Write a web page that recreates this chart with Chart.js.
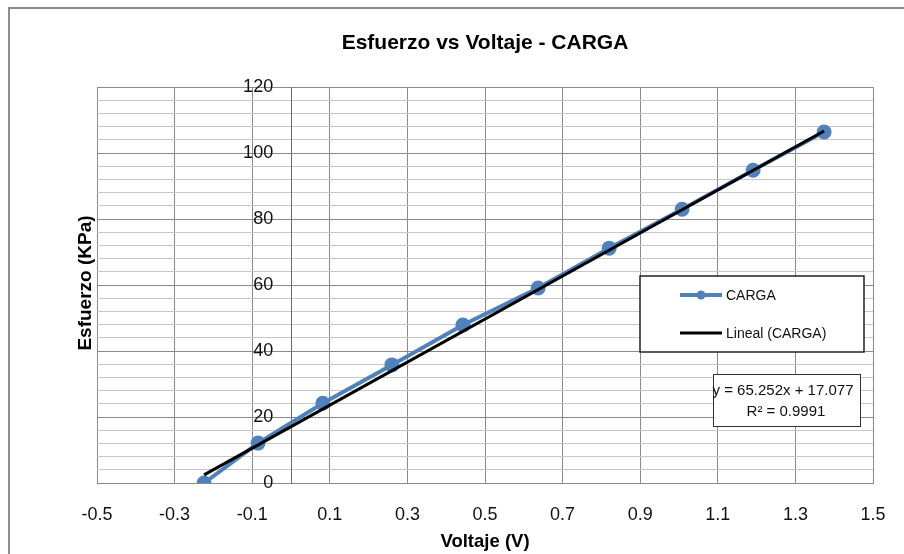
<!DOCTYPE html>
<html>
<head>
<meta charset="utf-8">
<script src="https://cdn.jsdelivr.net/npm/chart.js@4.4.0/dist/chart.umd.min.js"></script>
<style>
  html, body { margin: 0; padding: 0; background: #fff; }
  #chartBox { position: relative; width: 904px; height: 554px; }
</style>
</head>
<body>
<div id="chartBox"><canvas id="canvasChart"></canvas></div>
<script>
// values
const voltaje = [-0.224, -0.085, 0.082, 0.260, 0.443, 0.637, 0.820, 1.008, 1.191, 1.374];
const esfuerzo = [0, 12.1, 24.2, 35.8, 47.9, 59.1, 71.2, 83.0, 94.8, 106.4];
const trendX = [-0.224, 1.374];
const trendY = [2.46, 106.73];
const xTickLabels = ['-0.5', '-0.3', '-0.1', '0.1', '0.3', '0.5', '0.7', '0.9', '1.1', '1.3', '1.5'];
const yTickLabels = ['0', '20', '40', '60', '80', '100', '120'];
const equationLines = ['y = 65.252x + 17.077', 'R\u00B2 = 0.9991'];
const titleText = 'Esfuerzo vs Voltaje - CARGA';
const xTitle = 'Voltaje (V)';
const yTitle = 'Esfuerzo (KPa)';

const fontFamily = '"Liberation Sans", Arial, sans-serif';
const blue = '#4F81BD';

const points = voltaje.map((v, i) => ({x: v, y: esfuerzo[i]}));
const trendPoints = trendX.map((v, i) => ({x: v, y: trendY[i]}));

// frame, y title, legend and equation box
const extras = {
  id: 'extras',
  beforeDraw(chart) {
    const c = chart.ctx;
    c.save();
    c.fillStyle = '#fff';
    c.fillRect(0, 0, chart.width, chart.height);
    c.strokeStyle = '#8c8c8c';
    c.lineWidth = 2;
    c.strokeRect(9, 8, 1000, 1000);
    c.restore();
  },
  afterDraw(chart) {
    const c = chart.ctx;
    const ds = chart.data.datasets;
    c.save();
    // y axis title
    c.translate(86, 283);
    c.rotate(-Math.PI / 2);
    c.font = 'bold 19px ' + fontFamily;
    c.fillStyle = '#000';
    c.textAlign = 'center';
    c.textBaseline = 'middle';
    c.fillText(yTitle, 0, 0);
    c.restore();

    // legend
    c.save();
    c.fillStyle = '#fff';
    c.fillRect(640, 276, 224, 76);
    c.strokeStyle = '#222';
    c.lineWidth = 1.5;
    c.strokeRect(640, 276, 224, 76);
    const rows = [295, 333];
    ds.forEach((d, i) => {
      const y = rows[i];
      c.strokeStyle = d.borderColor;
      c.lineWidth = d.borderWidth;
      c.beginPath();
      c.moveTo(680, y);
      c.lineTo(722, y);
      c.stroke();
      if (d.pointRadius > 0) {
        c.fillStyle = d.pointBackgroundColor;
        c.beginPath();
        c.arc(701, y, 4.5, 0, Math.PI * 2);
        c.fill();
      }
      c.fillStyle = '#111';
      c.font = '14px ' + fontFamily;
      c.textAlign = 'left';
      c.textBaseline = 'middle';
      c.fillText(d.label, 726, y + 1);
    });

    // equation box
    c.fillStyle = '#fff';
    c.fillRect(713, 374, 147, 52);
    c.strokeStyle = '#333';
    c.lineWidth = 1;
    c.strokeRect(713.5, 374.5, 147, 52);
    c.fillStyle = '#111';
    c.font = '15px ' + fontFamily;
    c.textAlign = 'center';
    c.textBaseline = 'middle';
    c.fillText(equationLines[0], 783, 391);
    c.fillText(equationLines[1], 786, 412);
    c.restore();
  }
};

const config = {
  type: 'scatter',
  data: {
    datasets: [{
      label: 'CARGA',
      data: points,
      showLine: true,
      borderColor: blue,
      backgroundColor: blue,
      pointBackgroundColor: blue,
      pointBorderColor: blue,
      borderWidth: 4,
      pointRadius: 5.5,
      pointHoverRadius: 5.5,
      order: 1
    }, {
      label: 'Lineal (CARGA)',
      data: trendPoints,
      showLine: true,
      borderColor: '#000',
      backgroundColor: '#000',
      borderWidth: 3,
      pointRadius: 0,
      order: 0
    }]
  },
  options: {
    responsive: true,
    maintainAspectRatio: false,
    animation: false,
    layout: { padding: { left: 97, right: 31, top: 0, bottom: 0 } },
    plugins: {
      legend: { display: false },
      tooltip: { enabled: false },
      title: {
        display: true,
        text: titleText,
        color: '#000',
        font: { family: fontFamily, size: 21, weight: 'bold', lineHeight: 1.2 },
        padding: { top: 31, bottom: 31 }
      }
    },
    scales: {
      x: {
        type: 'linear',
        position: 'bottom',
        min: -0.5,
        max: 1.5,
        afterFit: s => { s.height = 71; },
        ticks: {
          stepSize: 0.2,
          padding: 0,
          color: '#111',
          font: { family: fontFamily, size: 18 },
          callback: (v, i) => xTickLabels[i]
        },
        grid: { color: '#8a8a8a', lineWidth: 1, drawTicks: true, tickLength: 21, tickColor: 'rgba(0,0,0,0)' },
        border: { display: true, color: '#8a8a8a' },
        title: {
          display: true,
          text: xTitle,
          color: '#000',
          font: { family: fontFamily, size: 18.5, weight: 'bold', lineHeight: 1.2 },
          padding: { top: 0, bottom: 1 }
        }
      },
      // gridlines and axis line at x = 0
      y: {
        type: 'linear',
        position: { x: 0 },
        min: 0,
        max: 120,
        ticks: {
          stepSize: 4,
          autoSkip: false,
          display: false
        },
        grid: {
          drawTicks: false,
          lineWidth: 1,
          color: ctx => (ctx.tick && ctx.tick.value % 20 === 0 ? '#8a8a8a' : '#c8c8c8')
        },
        border: { display: true, color: '#6a6a6a', width: 1 }
      },
      // tick labels just left of the axis line
      yLabels: {
        type: 'linear',
        axis: 'y',
        position: { x: -0.046 },
        min: 0,
        max: 120,
        ticks: {
          stepSize: 20,
          autoSkip: false,
          color: '#111',
          font: { family: fontFamily, size: 18 },
          callback: v => yTickLabels[v / 20]
        },
        grid: { display: false, drawTicks: false },
        border: { display: false }
      }
    }
  },
  plugins: [extras]
};

const chart = new Chart(document.getElementById('canvasChart').getContext('2d'), config);
</script>
</body>
</html>
